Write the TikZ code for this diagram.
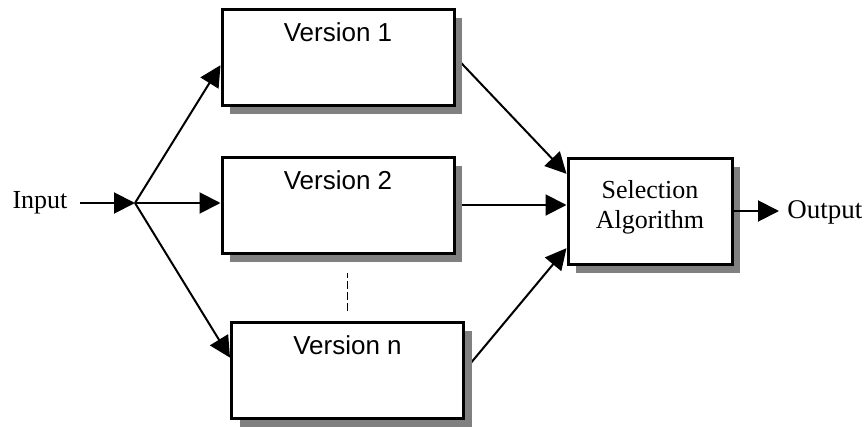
\documentclass[tikz,border=0pt]{standalone}
\usepackage{fontspec}
\setmainfont{Liberation Serif}
\newfontfamily\arialfont{Liberation Sans}
\usetikzlibrary{arrows.meta,shadows,calc,backgrounds}
\definecolor{ShadowClr}{rgb}{0.5,0.5,0.5}

\tikzset{
  version/.style={draw, line width=1.5pt, fill=white,
    minimum width=116pt, minimum height=48pt,
    drop shadow={shadow xshift=4pt, shadow yshift=-4.5pt, fill=ShadowClr, opacity=1}},
  vlabel/.style={anchor=base, label distance=-16.75pt,
    font=\arialfont\fontsize{13}{15}\selectfont},
  flow/.style={-{Triangle[length=10.5pt,width=10.5pt]}, line width=1pt},
}

\begin{document}
\begin{tikzpicture}[x=0.5pt, y=-0.5pt, font=\fontsize{13}{15}\selectfont]
\useasboundingbox (0,0) rectangle (868,428);

\node[version, label={[vlabel]north:Version 1}] (v1) at (338,57) {};
\node[version, label={[vlabel]north:Version 2}] (v2) at (338,205) {};
\node[version, label={[vlabel]north:Version n}] (vn) at (347.5,370) {};
\node[version, minimum width=82pt, minimum height=53pt,
  label={[align=center, anchor=north, label distance=-8.4pt,
    font=\fontsize{13}{15}\selectfont]north:Selection\\Algorithm}] (sel) at (650,211) {};

\node[inner xsep=6pt] (in) at (40,203) {Input};
\node[anchor=west, inner sep=4pt, font=\fontsize{13.5}{15}\selectfont] (out) at (779,212) {Output};
\coordinate (fork) at (135,203);

\begin{scope}[on background layer]
\draw[flow] (in.east |- fork) -- (fork);
\draw[flow] (fork) -- (v1.184);
\draw[flow] (fork) -- (fork -| v2.west);
\draw[flow] (fork) -- (vn.174);

\draw[flow] (v1.east) -- (sel.156);
\draw[flow] (v2.east) -- (v2.east -| sel.west);
\draw[flow] (vn.east) -- (sel.204);
\end{scope}
\draw[flow] (sel.east) -- (sel.east -| out.west);

\draw[line width=0.75pt, dash pattern=on 4pt off 1.5pt]
  ($(vn.north)+(0,-10)$) -- ($(vn.north)+(0,-48)$);

\end{tikzpicture}
\end{document}
